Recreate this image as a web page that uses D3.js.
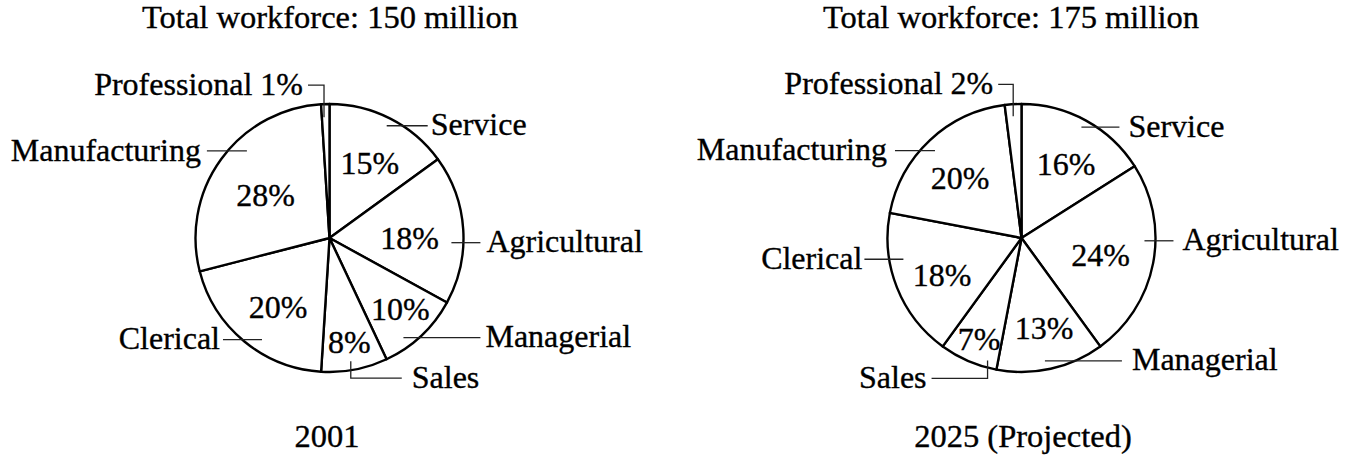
<!DOCTYPE html>
<html>
<head>
<meta charset="utf-8">
<script src="https://cdn.jsdelivr.net/npm/d3@7"></script>
<style>
	body { margin: 0; background: #fff; }
	text { font-family: "Liberation Serif", "Times New Roman", serif; fill: #000; stroke: #000; stroke-width: 0.35px; }
</style>
</head>
<body>
<svg id="chart" width="1352" height="455"></svg>
<script>
// data
var categories = ["Service", "Agricultural", "Managerial", "Sales", "Clerical", "Manufacturing", "Professional"];
var values2001 = [15, 18, 10, 8, 20, 28, 1];
var values2025 = [16, 24, 13, 7, 18, 20, 2];
var titles = ["Total workforce: 150 million", "Total workforce: 175 million"];
var yearLabels = ["2001", "2025 (Projected)"];

// layout: percent label nudges [angle offset deg, radius px]
var pctLeft = [[1.4, 85], [3.4, 80], [-1.8, 100], [0, 106], [-2.9, 86], [-2, 77], null];
var pctRight = [[2.4, 86], [1.3, 81], [-1.5, 93], [-0.7, 110], [-3.7, 88], [-2.3, 86], null];

// leader lines: anchor (angle offset, radius), optional vertical part, horizontal dir/len, text gap
var notesLeft = [
	{dA: 0, rho: 126, dir: 1, len: 41, gap: 3},
	{dA: 5.8, rho: 122, dir: 1, len: 29, gap: 6},
	{dA: 6.6, rho: 124, dir: 1, len: 77, gap: 5},
	{dA: 1, rho: 125, v: 17, dir: 1, len: 51, gap: 10},
	{dA: -6, rho: 122, dir: -1, len: 39, gap: 3},
	{dA: 10.5, rho: 120, dir: -1, len: 40, gap: 6},
	{dA: -0.8, rho: 121, v: -32, dir: -1, len: 16, gap: 5}
];
var notesRight = [
	{dA: -0.4, rho: 126, dir: 1, len: 38, gap: 9},
	{dA: -9.5, rho: 123, dir: 1, len: 29, gap: 9},
	{dA: 1.8, rho: 125, dir: 1, len: 77, gap: 10},
	{dA: -7.9, rho: 127, v: 18, dir: -1, len: 56, gap: 5},
	{dA: 11.4, rho: 120, dir: -1, len: 39, gap: 2},
	{dA: -1.5, rho: 123, dir: -1, len: 40, gap: 8},
	{dA: -0.3, rho: 122, v: -32, dir: -1, len: 15, gap: 5}
];

var pies = [
	{values: values2001, title: titles[0], year: yearLabels[0], cx: 329.5, cy: 238, titleX: 330, yearX: 327, pct: pctLeft, notes: notesLeft},
	{values: values2025, title: titles[1], year: yearLabels[1], cx: 1021.5, cy: 238, titleX: 1011, yearX: 1023, pct: pctRight, notes: notesRight}
];

var radius = 134;
var svg = d3.select("#chart");

var pie = d3.pie().sort(null).value(function(d) { return d; });
var arc = d3.arc().innerRadius(0).outerRadius(radius);
var rad = Math.PI / 180;

function drawPie(p){
	var g = svg.append("g").attr("transform", "translate(" + p.cx + "," + p.cy + ")");
	var arcs = pie(p.values);

	g.selectAll("path.slice")
		.data(arcs)
		.enter().append("path")
		.attr("class", "slice")
		.attr("d", arc)
		.attr("fill", "#fff")
		.attr("stroke", "#000")
		.attr("stroke-width", 2.4)
		.attr("stroke-linejoin", "round");

	// percent labels inside
	arcs.forEach(function(a, i){
		var n = p.pct[i];
		if (!n) return;
		var mid = (a.startAngle + a.endAngle) / 2 + n[0] * rad;
		var pt = d3.pointRadial(mid, n[1]);
		g.append("text")
			.attr("x", pt[0])
			.attr("y", pt[1])
			.attr("dy", "0.34em")
			.attr("text-anchor", "middle")
			.style("font-size", "32px")
			.text(a.data + "%");
	});

	// category labels with leader lines
	arcs.forEach(function(a, i){
		var n = p.notes[i];
		var mid = (a.startAngle + a.endAngle) / 2 + n.dA * rad;
		var pt = d3.pointRadial(mid, n.rho);
		var pts = [pt];
		var y = pt[1];
		if (n.v) {
			y = pt[1] + n.v;
			pts.push([pt[0], y]);
		}
		var xEnd = pt[0] + n.dir * n.len;
		pts.push([xEnd, y]);

		g.append("path")
			.attr("d", d3.line()(pts))
			.attr("fill", "none")
			.attr("stroke", "#222")
			.attr("stroke-width", 1.3);

		var label = categories[i];
		if (label === "Professional") label += " " + a.data + "%";
		g.append("text")
			.attr("x", xEnd + n.dir * n.gap)
			.attr("y", y)
			.attr("dy", "0.3em")
			.attr("text-anchor", n.dir > 0 ? "start" : "end")
			.style("font-size", "32px")
			.text(label);
	});

	svg.append("text")
		.attr("x", p.titleX)
		.attr("y", 28)
		.attr("text-anchor", "middle")
		.style("font-size", "32.5px")
		.text(p.title);

	svg.append("text")
		.attr("x", p.yearX)
		.attr("y", 447)
		.attr("text-anchor", "middle")
		.style("font-size", "32.5px")
		.text(p.year);
}

pies.forEach(drawPie);
</script>
</body>
</html>
